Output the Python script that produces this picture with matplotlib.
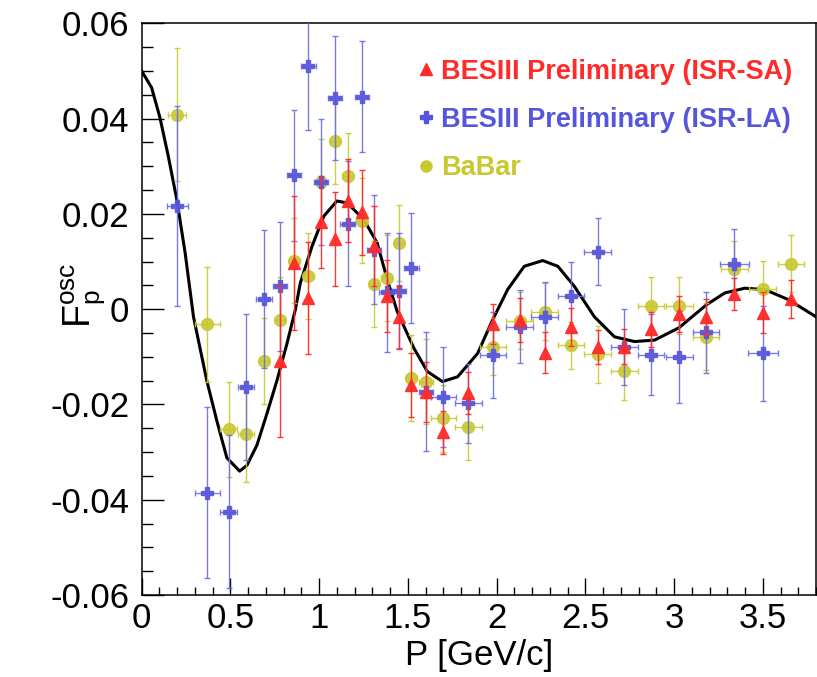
"""Oscillation term F_p^osc vs proton momentum: BESIII (ISR-SA, ISR-LA) and BaBar."""

import matplotlib
matplotlib.use("Agg")
import matplotlib.pyplot as plt
from matplotlib.ticker import MultipleLocator, FixedLocator
from matplotlib.lines import Line2D

# === data ===
# BESIII Preliminary (ISR-SA), red triangles
sa_p = [0.78, 0.86, 0.94, 1.01, 1.09, 1.16, 1.24, 1.31, 1.38, 1.45, 1.52, 1.60, 1.70,
        1.84, 1.98, 2.13, 2.27, 2.42, 2.57, 2.72, 2.87, 3.03, 3.18, 3.34, 3.50, 3.66]
sa_f = [-0.0109, 0.0097, 0.0023, 0.0183, 0.0147, 0.0228, 0.0203, 0.0132, 0.0028, -0.0017,
        -0.0159, -0.0173, -0.0258, -0.0176, -0.0032, -0.0023, -0.0091, -0.0038, -0.0080,
        -0.0079, -0.0042, -0.0010, -0.0016, 0.0032, -0.0008, 0.0021]
sa_err = [0.016, 0.014, 0.0117, 0.0096, 0.0098, 0.0088, 0.0090, 0.0084, 0.0076, 0.0066,
          0.0068, 0.0063, 0.0045, 0.0045, 0.0042, 0.0046, 0.0042, 0.0040, 0.0036, 0.0037,
          0.0037, 0.0037, 0.0038, 0.0034, 0.0043, 0.0040]

# BESIII Preliminary (ISR-LA), blue crosses
la_p = [0.20, 0.37, 0.49, 0.59, 0.69, 0.78, 0.86, 0.94, 1.01, 1.09, 1.16, 1.24, 1.31, 1.38,
        1.45, 1.52, 1.60, 1.70, 1.84, 1.98, 2.13, 2.27, 2.42, 2.57, 2.72, 2.87, 3.03, 3.18,
        3.34, 3.50]
la_f = [0.0217, -0.0385, -0.0425, -0.0163, 0.0021, 0.0048, 0.0281, 0.0511, 0.0267, 0.0443,
        0.0179, 0.0446, 0.0125, 0.0035, 0.0039, 0.0086, -0.0173, -0.0184, -0.0198, -0.0096,
        -0.0037, -0.0017, 0.0027, 0.0121, -0.0079, -0.0096, -0.0100, -0.0049, 0.0095, -0.0093]
la_err = [0.021, 0.018, 0.016, 0.0153, 0.0145, 0.0135, 0.0137, 0.0136, 0.0133, 0.0130,
          0.0131, 0.0117, 0.0115, 0.0125, 0.0120, 0.0116, 0.0125, 0.0105, 0.0083, 0.0090,
          0.0077, 0.0075, 0.0073, 0.0070, 0.0080, 0.0085, 0.0097, 0.0085, 0.0073, 0.0099]
la_dp = [0.06, 0.07, 0.05, 0.045, 0.045, 0.04, 0.04, 0.04, 0.04, 0.04, 0.04, 0.04, 0.04, 0.04,
         0.04, 0.04, 0.04, 0.07, 0.075, 0.075, 0.075, 0.075, 0.075, 0.075, 0.075, 0.075,
         0.075, 0.075, 0.08, 0.085]

# BaBar, yellow circles
bb_p = [0.20, 0.37, 0.49, 0.59, 0.69, 0.78, 0.86, 0.94, 1.01, 1.09, 1.16, 1.24, 1.31, 1.38,
        1.45, 1.52, 1.60, 1.70, 1.84, 1.98, 2.13, 2.27, 2.42, 2.57, 2.72, 2.87, 3.03, 3.18,
        3.34, 3.50, 3.66]
bb_f = [0.0408, -0.0032, -0.0252, -0.0263, -0.0109, -0.0023, 0.0102, 0.0069, 0.0267, 0.0353,
        0.0279, 0.0186, 0.0053, 0.0065, 0.0139, -0.0144, -0.0152, -0.0229, -0.0247, -0.0079,
        -0.0024, -0.0005, -0.0076, -0.0095, -0.0130, 0.0007, 0.0007, -0.0058, 0.0084, 0.0042,
        0.0095]
bb_err = [0.014, 0.012, 0.010, 0.010, 0.009, 0.009, 0.009, 0.009, 0.009, 0.009, 0.009, 0.009,
          0.009, 0.009, 0.008, 0.009, 0.009, 0.007, 0.007, 0.006, 0.006, 0.006, 0.005, 0.006,
          0.006, 0.006, 0.006, 0.007, 0.006, 0.006, 0.006]
bb_dp = [0.05, 0.07, 0.05, 0.045, 0.03, 0.03, 0.03, 0.03, 0.03, 0.03, 0.03, 0.03, 0.03, 0.03,
         0.03, 0.03, 0.04, 0.07, 0.075, 0.075, 0.075, 0.075, 0.075, 0.075, 0.075, 0.075,
         0.075, 0.075, 0.075, 0.075, 0.075]

# fit curve (black line)
fit_p = [0.00, 0.056, 0.103, 0.15, 0.198, 0.245, 0.292, 0.367, 0.424, 0.48, 0.552, 0.593,
         0.65, 0.706, 0.763, 0.819, 0.866, 0.894, 0.96, 1.026, 1.10, 1.158, 1.252, 1.327,
         1.384, 1.44, 1.534, 1.61, 1.695, 1.78, 1.893, 1.977, 2.062, 2.156, 2.26, 2.345,
         2.438, 2.551, 2.664, 2.777, 2.89, 3.028, 3.182, 3.286, 3.399, 3.512, 3.644, 3.80]
fit_f = [0.050, 0.0465, 0.0402, 0.0321, 0.0230, 0.0118, -0.0016, -0.0150, -0.0235, -0.0312,
         -0.0340, -0.0328, -0.0285, -0.0219, -0.0149, -0.0072, -0.0001, 0.0055, 0.0132, 0.0195,
         0.0227, 0.0223, 0.0188, 0.0139, 0.0062, -0.0005, -0.0082, -0.0131, -0.0152, -0.0142,
         -0.0093, -0.0023, 0.0041, 0.0090, 0.0102, 0.0090, 0.0048, -0.0016, -0.0058, -0.0068,
         -0.0065, -0.0039, 0.0009, 0.0034, 0.0044, 0.0041, 0.0020, -0.0016]

x_ticks = [0, 0.5, 1, 1.5, 2, 2.5, 3, 3.5]
x_tick_labels = ["0", "0.5", "1", "1.5", "2", "2.5", "3", "3.5"]
y_ticks = [-0.06, -0.04, -0.02, 0, 0.02, 0.04, 0.06]
y_tick_labels = ["-0.06", "-0.04", "-0.02", "0", "0.02", "0.04", "0.06"]
LEGEND_LABELS = ["BESIII Preliminary (ISR-SA)", "BESIII Preliminary (ISR-LA)", "BaBar"]

# === style ===
RED = "#ff2b2b"
BLUE = "#5656dc"
YELLOW = "#c8c832"
FONT = ["Liberation Sans", "DejaVu Sans"]
TICK_FONTSIZE = 25
LEGEND_FONTSIZE = 19.5


def main():
    plt.rcParams["font.family"] = FONT
    plt.rcParams["mathtext.fontset"] = "custom"
    plt.rcParams["mathtext.rm"] = FONT[0]

    fig = plt.figure(figsize=(8.17, 6.77), dpi=100)
    ax = fig.add_axes([0.1734, 0.1211, 0.8254, 0.8445])

    # curve first, then BaBar, LA, SA on top
    ax.plot(fit_p, fit_f, color="black", lw=2.2, zorder=2)

    eb = dict(ls="none", elinewidth=1.0, capsize=2.5, capthick=1.0)
    ax.errorbar(bb_p, bb_f, yerr=bb_err, xerr=bb_dp, fmt="o", ms=8.5, color=YELLOW,
                ecolor=YELLOW, mec=YELLOW, alpha=0.9, zorder=3, **eb)
    ax.errorbar(la_p, la_f, yerr=la_err, xerr=la_dp, fmt="P", ms=9, color=BLUE,
                ecolor="#6c6ce4", mec=BLUE, alpha=0.9, zorder=4, **eb)
    ax.errorbar(sa_p, sa_f, yerr=sa_err, fmt="^", ms=8.5, color=RED,
                ecolor=RED, mec=RED, alpha=0.95, zorder=5, **eb)

    ax.set_xlim(0, 3.8)
    ax.set_ylim(-0.06, 0.06)

    # ROOT-like ticks: inward, no top/right ticks
    ax.xaxis.set_major_locator(FixedLocator(x_ticks))
    ax.xaxis.set_minor_locator(MultipleLocator(0.1))
    ax.yaxis.set_major_locator(FixedLocator(y_ticks))
    ax.yaxis.set_minor_locator(MultipleLocator(0.005))
    ax.set_xticklabels(x_tick_labels)
    ax.set_yticklabels(y_tick_labels)
    ax.tick_params(axis="both", which="both", direction="in", top=False, right=False,
                   labelsize=TICK_FONTSIZE, width=1.0)
    ax.tick_params(axis="x", which="major", length=12, pad=5)
    ax.tick_params(axis="x", which="minor", length=6)
    ax.tick_params(axis="y", which="major", length=15.5, pad=9)
    ax.tick_params(axis="y", which="minor", length=8)
    for s in ax.spines.values():
        s.set_linewidth(1.1)

    ax.set_xlabel("P [GeV/c]", fontsize=TICK_FONTSIZE)
    ax.xaxis.label.set_va("center")
    ax.xaxis.set_label_coords(0.50, -0.105)
    ax.text(-0.085, 0.525, r"$\mathregular{F_{p}^{osc}}$", transform=ax.transAxes,
            rotation=90, ha="center", va="center", fontsize=TICK_FONTSIZE + 2)

    # legend: marker + coloured bold label, no frame
    handles = [
        Line2D([], [], ls="none", marker="^", ms=8, color=RED),
        Line2D([], [], ls="none", marker="P", ms=8, color=BLUE),
        Line2D([], [], ls="none", marker="o", ms=8, color=YELLOW),
    ]
    ax.legend(handles, LEGEND_LABELS, loc="upper left", bbox_to_anchor=(0.41, 0.938),
              frameon=False, handlelength=0.6, handletextpad=0.25, labelspacing=0.82,
              borderpad=0, borderaxespad=0,
              labelcolor=[RED, BLUE, YELLOW],
              prop={"weight": "bold", "size": LEGEND_FONTSIZE})

    fig.savefig("out.png", dpi=100)


if __name__ == "__main__":
    main()
